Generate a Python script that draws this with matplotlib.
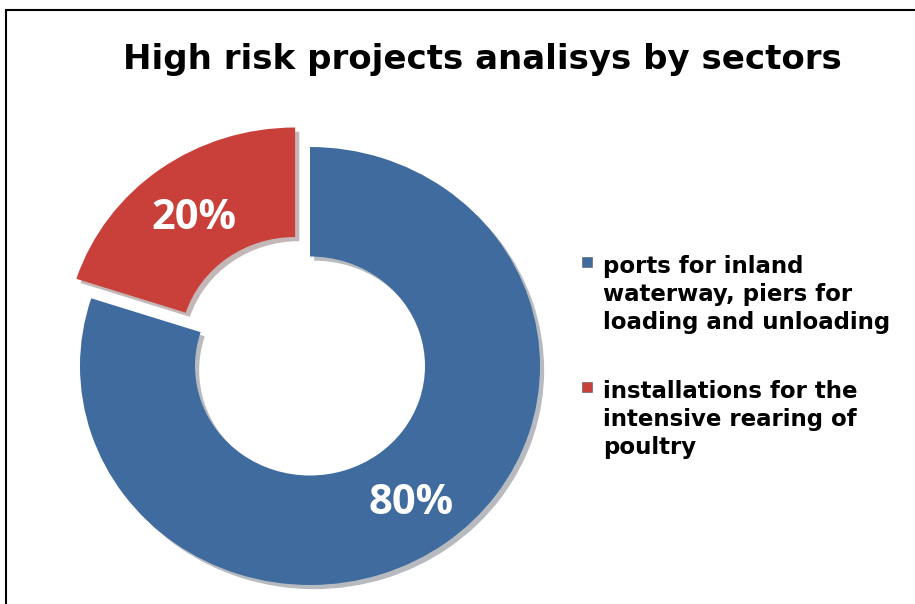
import matplotlib.pyplot as plt
import matplotlib.patheffects as pe
from matplotlib.patches import Rectangle

title = "High risk projects analisys by sectors"
sectors = [
    "ports for inland\nwaterway, piers for\nloading and unloading",
    "installations for the\nintensive rearing of\npoultry",
]
shares = [80, 20]
colors = ["#3F6B9F", "#C9403B"]
explode = [0, 0.11]

fig = plt.figure(figsize=(9.15, 6.04), dpi=100)

# chart frame (right/bottom edges run off the picture)
fig.patches.append(Rectangle((6 / 915, -0.05), 1.0, 1 - 10 / 604 + 0.05,
                             transform=fig.transFigure, fill=False,
                             edgecolor="black", linewidth=1.5))

fig.text(482 / 915, 1 - 60 / 604, title, ha="center", va="center",
         fontsize=24.5, fontweight="bold", family="DejaVu Sans")

# donut axes, slightly wider than tall like the original
ax = fig.add_axes([34 / 915, -24.8 / 604, 552 / 915, 525.6 / 604])
wedges, texts, autotexts = ax.pie(
    shares,
    colors=colors,
    explode=explode,
    startangle=90,
    counterclock=False,
    autopct="%d%%",
    pctdistance=0.75,
    wedgeprops=dict(width=0.5, edgecolor="none"),
    textprops=dict(color="white", fontsize=30, fontweight="bold",
                   family="Open Sans"),
)
for w in wedges:
    w.set_path_effects([pe.SimplePatchShadow(offset=(3, -3), alpha=0.3, rho=0.3),
                        pe.Normal()])
for t in autotexts:
    t.set_va("center_baseline")
ax.set_aspect("auto")
ax.set_xlim(-1.2, 1.2)
ax.set_ylim(-1.2, 1.2)
ax.axis("off")

# legend drawn by hand so each marker sits on the first line of its label
for i, (label, color) in enumerate(zip(sectors, colors)):
    y = 1 - (255 + i * 125) / 604
    fig.patches.append(Rectangle((582 / 915, y - 12 / 604), 10 / 915, 10 / 604,
                                 transform=fig.transFigure, facecolor=color,
                                 edgecolor="#555555", linewidth=0.4))
    fig.text(603 / 915, y, label, ha="left", va="top", linespacing=1.27,
             family="DejaVu Sans", fontweight="bold", fontsize=16.5)

fig.savefig("out.png", dpi=100)
